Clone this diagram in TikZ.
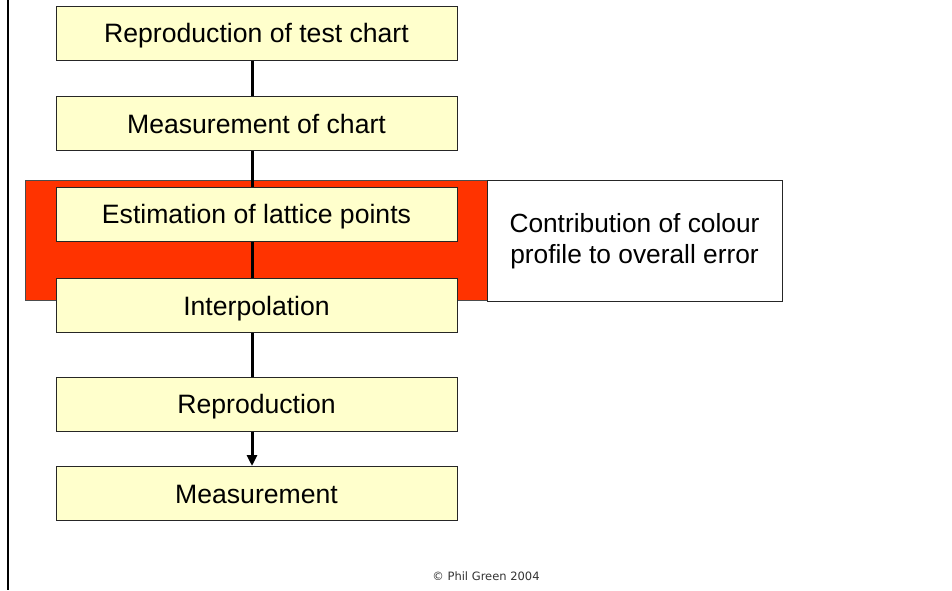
\documentclass[tikz,border=0pt]{standalone}
\usepackage{fontspec}
\setmainfont{Liberation Sans}
\newfontfamily\notefont{DejaVu Sans}
\usetikzlibrary{arrows.meta}
\definecolor{boxfill}{HTML}{FFFFCC}
\definecolor{bandred}{HTML}{FF3300}
\definecolor{notegrey}{HTML}{333333}
\begin{document}
\begin{tikzpicture}[x=1pt,y=-1pt,
  stepbox/.style={draw=black!85, line width=1pt, fill=boxfill,
    minimum width=401pt, minimum height=54pt, inner sep=0pt,
    text height=19pt, text depth=0pt,
    font=\fontsize{26.6}{31}\selectfont},
  conn/.style={line width=3pt, black},
  arrowconn/.style={conn, -{Triangle[length=11pt,width=10pt]}}]
\useasboundingbox (0,0) rectangle (952,590);
% left page rule
\draw[line width=2pt] (8,0) -- (8,590);
% highlighted band and its caption
\node[fill=bandred, draw=black!70, line width=0.8pt, minimum width=462pt,
  minimum height=120pt, inner sep=0pt] (band) at (256,240) {};
\node[draw=black!85, fill=white, line width=1pt, minimum width=295pt,
  minimum height=121pt, inner sep=0pt, align=center,
  font=\fontsize{26.3}{31}\selectfont] (note) at (634.5,241)
  {Contribution of colour\\profile to overall error};
% connectors run beneath the step boxes
\coordinate (c1) at (252,33);
\coordinate (c2) at (252,123.5);
\coordinate (c3) at (252,214);
\coordinate (c4) at (252,305.5);
\coordinate (c5) at (252,404);
\draw[conn] (c1) -- (c2);
\draw[conn] (c2) -- (c3);
\draw[conn] (c3) -- (c4);
\draw[conn] (c4) -- (c5);
% process steps
\node[stepbox] (s1) at (256.5,33) {Reproduction of test chart};
\node[stepbox] (s2) at (256.5,123.5) {Measurement of chart};
\node[stepbox] (s3) at (256.5,214) {Estimation of lattice points};
\node[stepbox] (s4) at (256.5,305.5) {Interpolation};
\node[stepbox] (s5) at (256.5,404) {Reproduction};
\node[stepbox] (s6) at (256.5,493.5) {Measurement};
\draw[arrowconn] (s5.south -| c5) -- (s6.north -| c5);
% copyright line
\node[text=notegrey, font=\notefont\fontsize{11.5}{13}\selectfont, inner sep=0pt]
  (copy) at (486,576) {© Phil Green 2004};
\end{tikzpicture}
\end{document}
